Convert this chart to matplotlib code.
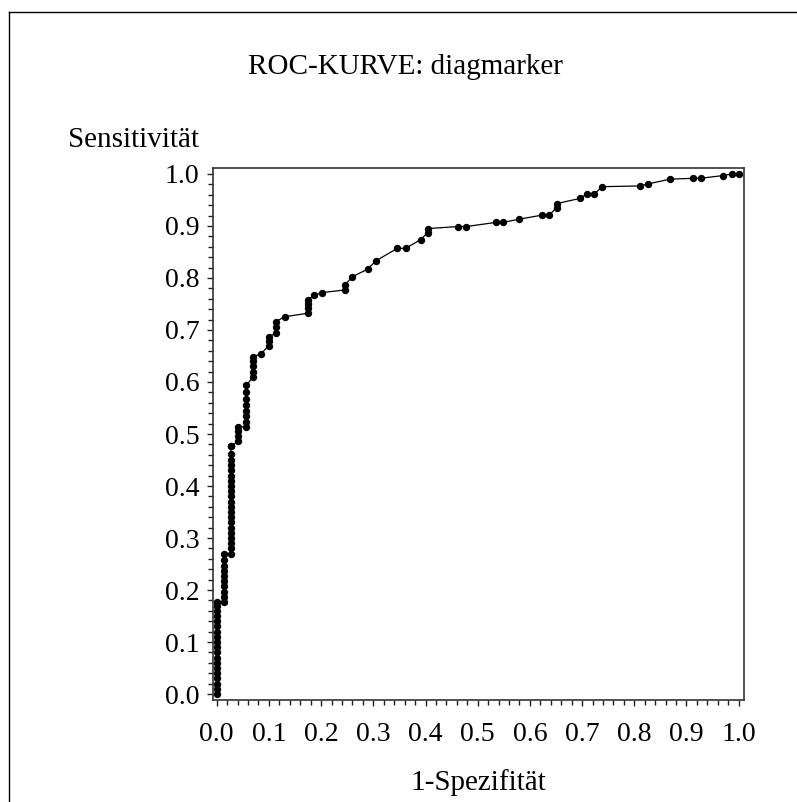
import matplotlib
matplotlib.use("Agg")
import matplotlib.pyplot as plt
from matplotlib.lines import Line2D
from matplotlib.ticker import MultipleLocator

plt.rcParams['font.family'] = ['Liberation Serif', 'DejaVu Serif']

title = "ROC-KURVE: diagmarker"
x_label = "1-Spezifität"
y_label = "Sensitivität"

fpr = [0.0, 0.0, 0.0, 0.0, 0.0, 0.0, 0.0, 0.0, 0.0, 0.0, 0.0, 0.0, 0.0, 0.0, 0.0, 0.0, 0.0, 0.0, 0.0,
       0.014, 0.014, 0.014, 0.014, 0.014, 0.014, 0.014, 0.014, 0.014, 0.014,
       0.027, 0.027, 0.027, 0.027, 0.027, 0.027, 0.027, 0.027, 0.027, 0.027, 0.027,
       0.027, 0.027, 0.027, 0.027, 0.027, 0.027, 0.027, 0.027, 0.027, 0.027, 0.027,
       0.041, 0.041, 0.041, 0.041,
       0.057, 0.057, 0.057, 0.057, 0.057, 0.057, 0.057, 0.057,
       0.070, 0.070, 0.070, 0.070, 0.070,
       0.085,
       0.0996, 0.0996, 0.0996,
       0.1136, 0.1136, 0.1136,
       0.130,
       0.174, 0.174, 0.174, 0.174,
       0.187, 0.202,
       0.246, 0.246,
       0.260, 0.289, 0.305, 0.346, 0.362, 0.391,
       0.404, 0.404,
       0.463, 0.478, 0.536, 0.549, 0.579, 0.624, 0.637,
       0.651, 0.651,
       0.696, 0.709, 0.723, 0.739, 0.811, 0.827, 0.868, 0.913, 0.927, 0.970, 0.987, 1.0]

tpr = [0.0, 0.01, 0.02, 0.03, 0.04, 0.05, 0.06, 0.07, 0.08, 0.09, 0.10, 0.11, 0.12, 0.13, 0.14, 0.15, 0.16, 0.17, 0.177,
       0.177, 0.187, 0.197, 0.207, 0.217, 0.227, 0.237, 0.247, 0.258, 0.270,
       0.270, 0.280, 0.290, 0.300, 0.310, 0.320, 0.330, 0.340, 0.350, 0.360, 0.370,
       0.380, 0.390, 0.400, 0.410, 0.420, 0.430, 0.440, 0.450, 0.462, 0.476, 0.476,
       0.486, 0.496, 0.506, 0.514,
       0.514, 0.524, 0.534, 0.544, 0.556, 0.568, 0.580, 0.594,
       0.610, 0.620, 0.630, 0.640, 0.649,
       0.654,
       0.670, 0.679, 0.687,
       0.694, 0.705, 0.716,
       0.7256,
       0.732, 0.742, 0.750, 0.758,
       0.767, 0.772,
       0.777, 0.787,
       0.8025, 0.817, 0.833, 0.857, 0.857, 0.874,
       0.887, 0.895,
       0.899, 0.899, 0.907, 0.907, 0.913, 0.921, 0.921,
       0.935, 0.943,
       0.953, 0.9615, 0.9615, 0.9756, 0.977, 0.981, 0.990, 0.9917, 0.9917, 0.997, 1.0, 1.0]

x_ticks = [0.0, 0.1, 0.2, 0.3, 0.4, 0.5, 0.6, 0.7, 0.8, 0.9, 1.0]
y_ticks = [0.0, 0.1, 0.2, 0.3, 0.4, 0.5, 0.6, 0.7, 0.8, 0.9, 1.0]

W, H = 797, 802
fig = plt.figure(figsize=(W / 100, H / 100), dpi=100)
ax = fig.add_axes([212.7 / W, 1 - 700 / H, (744 - 212.7) / W, (700 - 168) / H])

ax.plot(fpr, tpr, color='black', linewidth=0.9, marker='o', markersize=4.3,
        markerfacecolor='black', markeredgecolor='black')

ax.set_xlim(-0.0077, 1.0102)
ax.set_ylim(-0.0115, 1.0115)
ax.set_xticks(x_ticks)
ax.set_yticks(y_ticks)
ax.set_xticklabels([f"{v:.1f}" for v in x_ticks])
ax.set_yticklabels([f"{v:.1f}" for v in y_ticks])
ax.xaxis.set_minor_locator(MultipleLocator(0.02))
ax.yaxis.set_minor_locator(MultipleLocator(0.02))
ax.tick_params(which='major', direction='out', length=4.5, width=1.0, labelsize=20, pad=5, colors='#222222', labelcolor='black')
ax.tick_params(axis='x', which='major', pad=11)
ax.tick_params(which='minor', direction='out', length=3.5, width=1.0, colors='#222222')
for s in ax.spines.values():
    s.set_linewidth(1.2)
    s.set_color('#333333')

fig.text(405 / W, 1 - 67 / H, title, ha='center', va='center', fontsize=21)
fig.text(68 / W, 1 - 140 / H, y_label, ha='left', va='center', fontsize=21)
fig.text(478 / W, 1 - 783 / H, x_label, ha='center', va='center', fontsize=21)

# outer frame (left and top edges)
fig.add_artist(Line2D([9 / W, 9 / W], [0, 1 - 12 / H], transform=fig.transFigure, color='black', linewidth=1.0))
fig.add_artist(Line2D([9 / W, 1], [1 - 12 / H, 1 - 12 / H], transform=fig.transFigure, color='black', linewidth=1.0))

fig.savefig("out.png", dpi=100)
